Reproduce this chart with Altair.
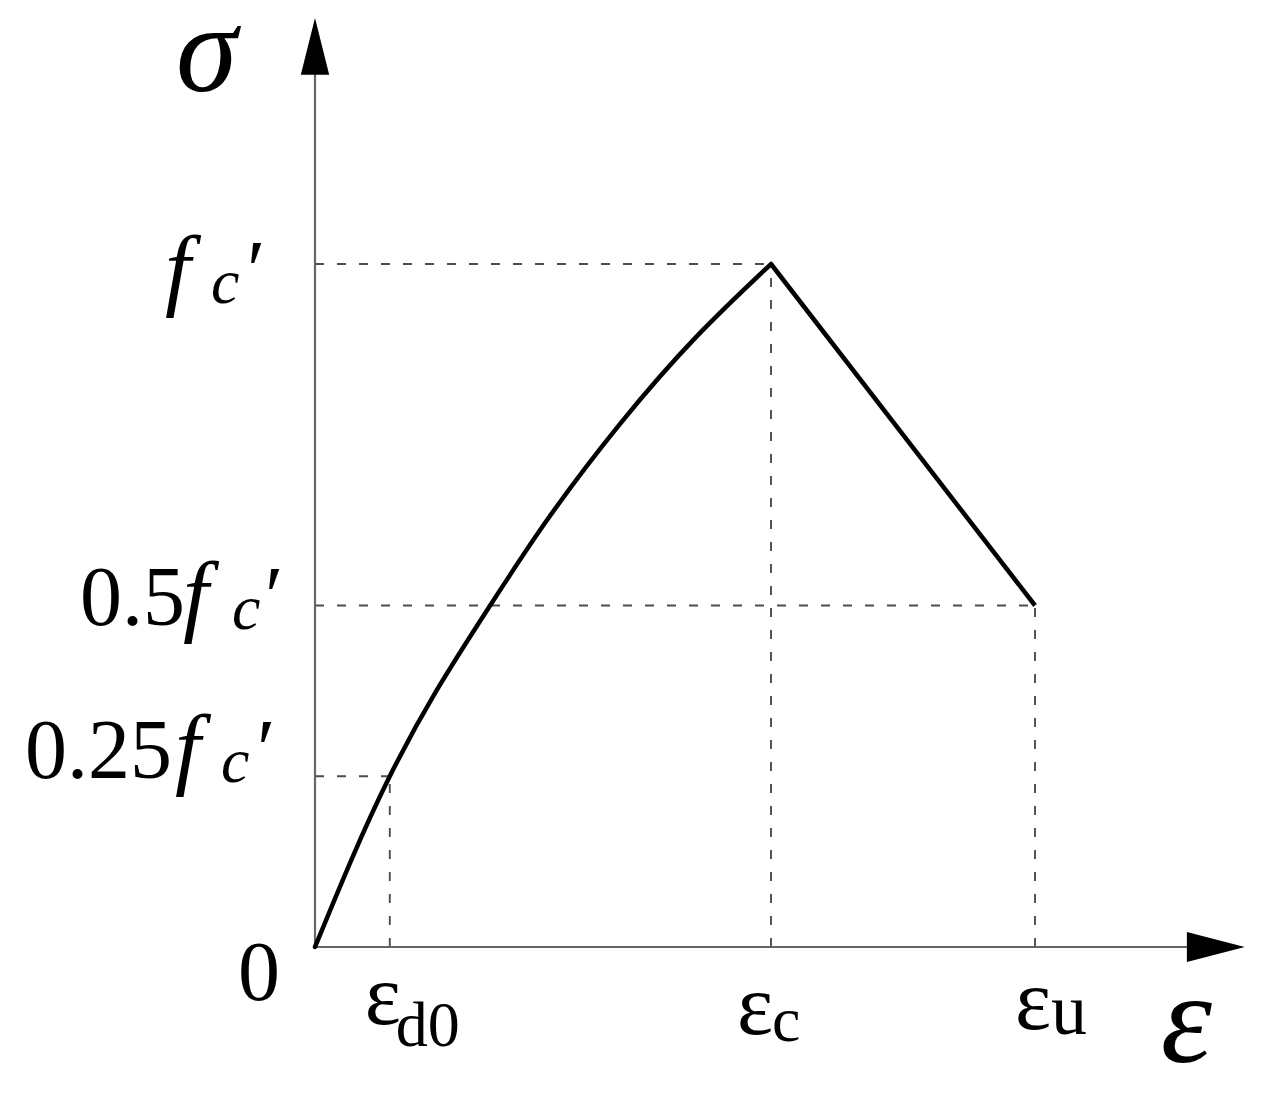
import altair as alt
import pandas as pd

# ---------------- data ----------------
# ascending branch of the stress-strain curve (strain / eps_c, stress / f_c')
strain_rise = [0.0, 0.08, 0.164, 0.267, 0.384, 0.512, 0.669, 0.837, 1.0]
stress_rise = [0.0, 0.128, 0.25, 0.376, 0.5, 0.628, 0.766, 0.894, 1.0]
# descending (linear) branch
strain_fall = [1.0, 1.579]
stress_fall = [1.0, 0.5]
# characteristic points: (eps_d0, 0.25fc'), (eps_c, fc'), (eps_u, 0.5fc')
key_strain = [0.164, 1.0, 1.579]
key_stress = [0.25, 1.0, 0.5]
# axis extents (arrow tips)
axis_x_end = 2.039
axis_y_end = 1.36
arrow_x_base = 1.912
arrow_y_base = 1.277

# label texts
stress_levels = [1.0, 0.5, 0.25]
stress_prefix = ["", "0.5", "0.25"]
stress_symbol = "f"
stress_sub = "c"
prime = "\u2032"
strain_symbol = "\u03b5"
strain_subs = ["d0", "c", "u"]
y_title = "\u03c3"
x_title = "\u03b5"
origin_label = "0"

# ---------------- layout ----------------
W, H = 1248, 1076
PX_X, PX_Y = 456.0, 683.0          # pixels per data unit
ORIG_X, ORIG_Y = 307.0, 939.0      # origin inside the view (from left / top)
XDOM = [-ORIG_X / PX_X, (W - ORIG_X) / PX_X]
YDOM = [-(H - ORIG_Y) / PX_Y, ORIG_Y / PX_Y]
FONT = "Liberation Serif"

xs = alt.Scale(domain=XDOM, nice=False, zero=False)
ys = alt.Scale(domain=YDOM, nice=False, zero=False)


def X(f="x"):
    return alt.X(f"{f}:Q", scale=xs, axis=None)


def Y(f="y"):
    return alt.Y(f"{f}:Q", scale=ys, axis=None)


DASH_COLOR = "#4d4d4d"
AXIS_COLOR = "#666666"

# dashed guide lines
h_df = pd.DataFrame({"x": [0.0] * len(key_strain), "x2": key_strain, "y": key_stress})
v_df = pd.DataFrame({"x": key_strain, "y": [0.0] * len(key_strain), "y2": key_stress})
h_lines = alt.Chart(h_df).mark_rule(color=DASH_COLOR, strokeWidth=1.9, strokeDash=[9, 13]).encode(
    x=X(), x2="x2:Q", y=Y())
v_lines = alt.Chart(v_df).mark_rule(color=DASH_COLOR, strokeWidth=1.9, strokeDash=[9, 13]).encode(
    x=X(), y=Y(), y2="y2:Q")

# axis lines
yax = alt.Chart(pd.DataFrame({"x": [0.0], "y": [0.0], "y2": [arrow_y_base + 0.02]})).mark_rule(
    color=AXIS_COLOR, strokeWidth=2.2).encode(x=X(), y=Y(), y2="y2:Q")
xax = alt.Chart(pd.DataFrame({"x": [0.0], "x2": [arrow_x_base + 0.02], "y": [0.0]})).mark_rule(
    color=AXIS_COLOR, strokeWidth=2.2).encode(x=X(), x2="x2:Q", y=Y())

# curve
rise = alt.Chart(pd.DataFrame({"x": strain_rise, "y": stress_rise})).mark_line(
    color="black", strokeWidth=4.5, interpolate="natural", strokeCap="round").encode(
    x=X(), y=Y(), order="x:Q")
fall = alt.Chart(pd.DataFrame({"x": strain_fall, "y": stress_fall})).mark_line(
    color="black", strokeWidth=4.5, strokeCap="butt").encode(x=X(), y=Y())

# arrow heads
ylen = (axis_y_end - arrow_y_base) * PX_Y
xlen = (axis_x_end - arrow_x_base) * PX_X
y_arrow = alt.Chart(pd.DataFrame({"x": [0.0], "y": [(axis_y_end + arrow_y_base) / 2]})).mark_point(
    shape="M0,-1L0.5,1L-0.5,1Z", filled=True, color="black", opacity=1, size=ylen ** 2, strokeWidth=0
).encode(x=X(), y=Y())
x_arrow = alt.Chart(pd.DataFrame({"x": [(axis_x_end + arrow_x_base) / 2], "y": [0.0]})).mark_point(
    shape="M1,0L-1,-0.52L-1,0.52Z", filled=True, color="black", opacity=1, size=xlen ** 2, strokeWidth=0
).encode(x=X(), y=Y())


def txt(text, x, y, dx, dy, size, italic=False, align="left"):
    kw = dict(align=align, baseline="alphabetic", dx=dx, dy=dy, font=FONT,
              fontSize=size, color="black")
    if italic:
        kw["fontStyle"] = "italic"
    return alt.Chart(pd.DataFrame({"x": [x], "y": [y], "t": [text]})).mark_text(**kw).encode(
        x=X(), y=Y(), text="t:N")


texts = []
# stress labels (left of y axis)
prefix_dx = [0, -235, -290]
main_dy = [35, 19, 2]
f_dx = [-150, -132, -140]
c_dx = [-104, -83, -94]
p_dx = [-68, -50, -58]
for i, lvl in enumerate(stress_levels):
    if stress_prefix[i]:
        texts.append(txt(stress_prefix[i], 0.0, lvl, prefix_dx[i], main_dy[i], 84))
    texts.append(txt(stress_symbol, 0.0, lvl, f_dx[i], main_dy[i], 92, italic=True))
    texts.append(txt(stress_sub, 0.0, lvl, c_dx[i], main_dy[i] + 4, 64, italic=True))
    texts.append(txt(prime, 0.0, lvl, p_dx[i], main_dy[i], 84))

# strain labels (below x axis)
eps_dx = [-25, -34, -20]
eps_dy = [77, 87, 82]
sub_dx = [6, 1, 16]
sub_dy = [99, 94, 87]
sub_size = [64, 64, 72]
for i, s in enumerate(key_strain):
    texts.append(txt(strain_symbol, s, 0.0, eps_dx[i], eps_dy[i], 86))
    texts.append(txt(strain_subs[i], s, 0.0, sub_dx[i], sub_dy[i], sub_size[i]))

# origin, axis titles
texts.append(txt(origin_label, 0.0, 0.0, -56, 53, 84, align="center"))
texts.append(txt(y_title, 0.0, axis_y_end, -139, 73, 124, italic=True))
texts.append(txt(x_title, axis_x_end, 0.0, -84, 115, 130, italic=True))

chart = alt.layer(h_lines, v_lines, yax, xax, rise, fall, y_arrow, x_arrow, *texts).properties(
    width=W, height=H, padding=0, autosize="none"
).configure_view(stroke=None)

chart.save("out.html", embed_options={"renderer": "svg", "actions": False})
